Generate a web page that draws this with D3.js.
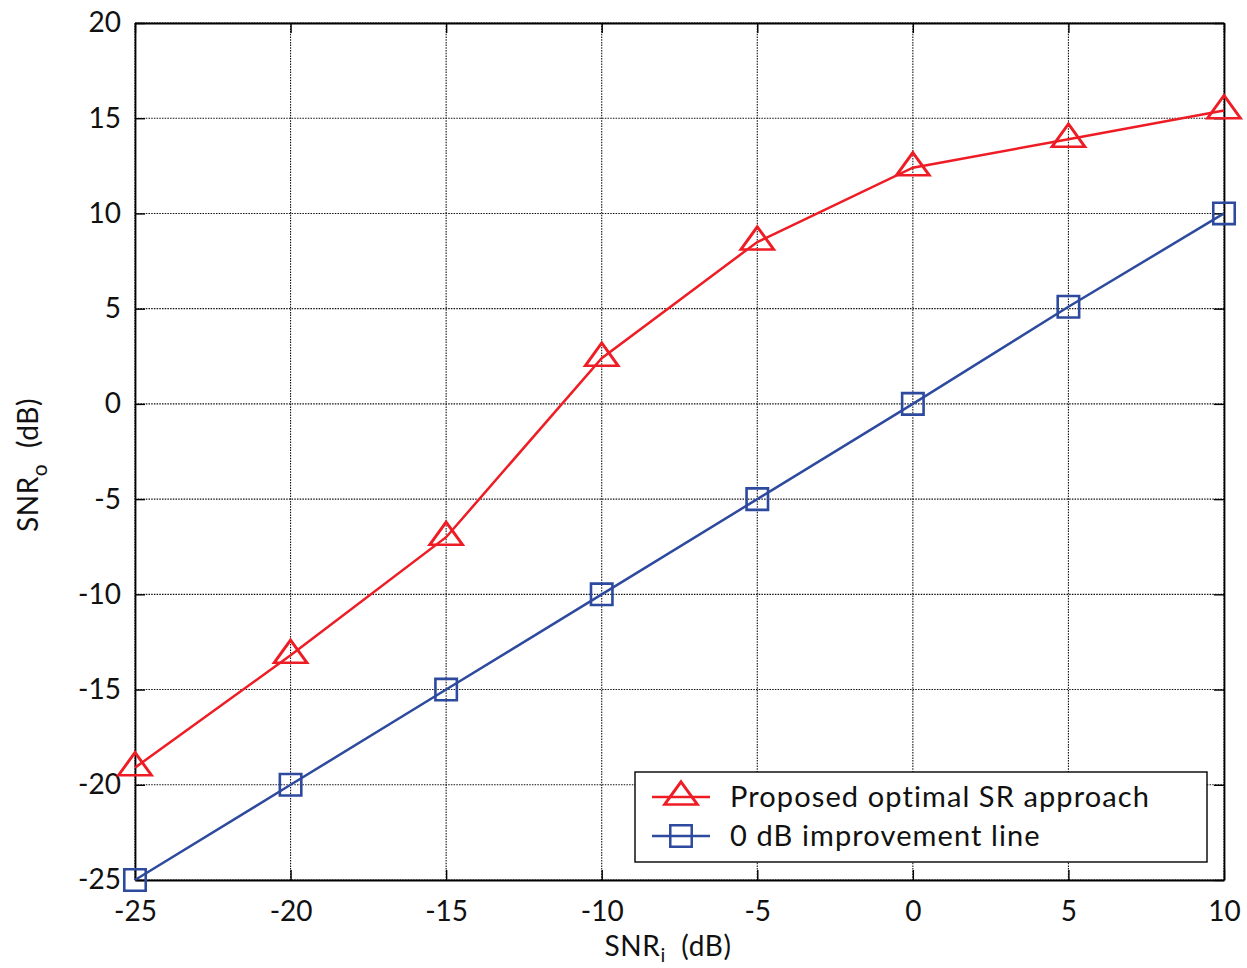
<!DOCTYPE html>
<html>
<head>
<meta charset="utf-8">
<script src="https://cdn.jsdelivr.net/npm/d3@7"></script>
<style>
  body { margin: 0; background: #fff; }
  svg text { font-family: "Lato", "Noto Sans", sans-serif; fill: #111; }
  .grid line { stroke: #111; stroke-dasharray: 1.5 1.2; stroke-width: 1.1; }
</style>
</head>
<body>
<div id="plot"></div>
<script>
// chart data
const snrIn = [-25, -20, -15, -10, -5, 0, 5, 10];
const proposed = [-19.1, -13.2, -7.0, 2.4, 8.5, 12.4, 13.9, 15.4];
const noGain = [-25, -20, -15, -10, -5, 0, 5.1, 10];
const xTicks = [-25, -20, -15, -10, -5, 0, 5, 10];
const yTicks = [-25, -20, -15, -10, -5, 0, 5, 10, 15, 20];
const legendLabels = ["Proposed optimal SR approach", "0 dB improvement line"];

const WIDTH = 1247;
const HEIGHT = 968;
const M = { left: 135, right: 23, top: 23, bottom: 88 };
const RED = "#ee1d25";
const BLUE = "#2d4a9f";

const svg = d3.select("#plot")
  .append("svg")
    .attr("width", WIDTH)
    .attr("height", HEIGHT);

const x = d3.scaleLinear().domain([-25, 10]).range([M.left, WIDTH - M.right]);
const y = d3.scaleLinear().domain([-25, 20]).range([HEIGHT - M.bottom, M.top]);

// plain hyphen for negatives, like the original
const fmt = d => String(d);

// dotted grid
const grid = svg.append("g").attr("class", "grid");
grid.selectAll("line.v").data(xTicks).join("line").attr("class", "v")
    .attr("x1", d => x(d)).attr("x2", d => x(d))
    .attr("y1", y(20)).attr("y2", y(-25));
grid.selectAll("line.h").data(yTicks).join("line").attr("class", "h")
    .attr("x1", x(-25)).attr("x2", x(10))
    .attr("y1", d => y(d)).attr("y2", d => y(d));

// axes with inward ticks on all four sides
const tickLen = 10;
svg.append("g")
  .attr("transform", `translate(0,${y(-25)})`)
  .call(d3.axisBottom(x).tickValues(xTicks).tickFormat(fmt).tickSizeInner(-tickLen).tickSizeOuter(0).tickPadding(21))
  .call(g => g.selectAll("text").attr("font-size", 28));
svg.append("g")
  .attr("transform", `translate(0,${y(20)})`)
  .call(d3.axisTop(x).tickValues(xTicks).tickSizeInner(-tickLen).tickSizeOuter(0).tickFormat(""));
svg.append("g")
  .attr("transform", `translate(${x(-25)},0)`)
  .call(d3.axisLeft(y).tickValues(yTicks).tickFormat(fmt).tickSizeInner(-tickLen).tickSizeOuter(0).tickPadding(14))
  .call(g => g.selectAll("text").attr("font-size", 28));
svg.append("g")
  .attr("transform", `translate(${x(10)},0)`)
  .call(d3.axisRight(y).tickValues(yTicks).tickSizeInner(-tickLen).tickSizeOuter(0).tickFormat(""));
svg.selectAll(".domain").attr("stroke", "#000").attr("stroke-width", 1.8);
svg.selectAll(".tick line").attr("stroke", "#000").attr("stroke-width", 1.4);

// axis labels
const xl = svg.append("text")
  .attr("x", 668).attr("y", 956)
  .attr("text-anchor", "middle").attr("font-size", 28).attr("letter-spacing", 0.6);
xl.append("tspan").text("SNR");
xl.append("tspan").text("i").attr("font-size", 20).attr("dy", 6);
xl.append("tspan").text("  (dB)").attr("dy", -6).style("white-space", "pre");

const yl = svg.append("text")
  .attr("transform", "translate(38,465) rotate(-90)")
  .attr("text-anchor", "middle").attr("font-size", 28).attr("letter-spacing", 0.6);
yl.append("tspan").text("SNR");
yl.append("tspan").text("o").attr("font-size", 21).attr("dy", 9);
yl.append("tspan").text("  (dB)").attr("dy", -9).style("white-space", "pre");

// series
const line = d3.line().x(d => x(d[0])).y(d => y(d[1]));
const redPts = d3.zip(snrIn, proposed);
const bluePts = d3.zip(snrIn, noGain);

const tri = d3.symbol().type(d3.symbolTriangle).size(300);
const sq = d3.symbol().type(d3.symbolSquare).size(460);

svg.append("path").datum(redPts)
  .attr("d", line).attr("fill", "none").attr("stroke", RED).attr("stroke-width", 2.5);
svg.append("g").selectAll("path").data(redPts).join("path")
  .attr("d", tri)
  .attr("transform", d => `translate(${x(d[0])},${y(d[1])}) scale(1.25,1)`)
  .attr("fill", "none").attr("stroke", RED).attr("stroke-width", 2.5);

svg.append("path").datum(bluePts)
  .attr("d", line).attr("fill", "none").attr("stroke", BLUE).attr("stroke-width", 2.5);
svg.append("g").selectAll("path").data(bluePts).join("path")
  .attr("d", sq)
  .attr("transform", d => `translate(${x(d[0])},${y(d[1])})`)
  .attr("fill", "none").attr("stroke", BLUE).attr("stroke-width", 2.6);

// legend
const lg = svg.append("g").attr("transform", "translate(635,772)");
lg.append("rect").attr("width", 572).attr("height", 90)
  .attr("fill", "#fff").attr("stroke", "#000").attr("stroke-width", 1.4);
const items = [
  { label: legendLabels[0], color: RED, sym: tri, sx: 1.25 },
  { label: legendLabels[1], color: BLUE, sym: sq, sx: 1 }
];
items.forEach((it, i) => {
  const cy = 25 + i * 39;
  lg.append("line").attr("x1", 17).attr("x2", 75).attr("y1", cy).attr("y2", cy)
    .attr("stroke", it.color).attr("stroke-width", 2.5);
  lg.append("path").attr("d", it.sym)
    .attr("transform", `translate(46,${cy}) scale(${it.sx},1)`)
    .attr("fill", "none").attr("stroke", it.color).attr("stroke-width", 2.5);
  lg.append("text").attr("x", 95).attr("y", cy + 10)
    .attr("font-size", 29).attr("letter-spacing", 1.1).text(it.label);
});
</script>
</body>
</html>
